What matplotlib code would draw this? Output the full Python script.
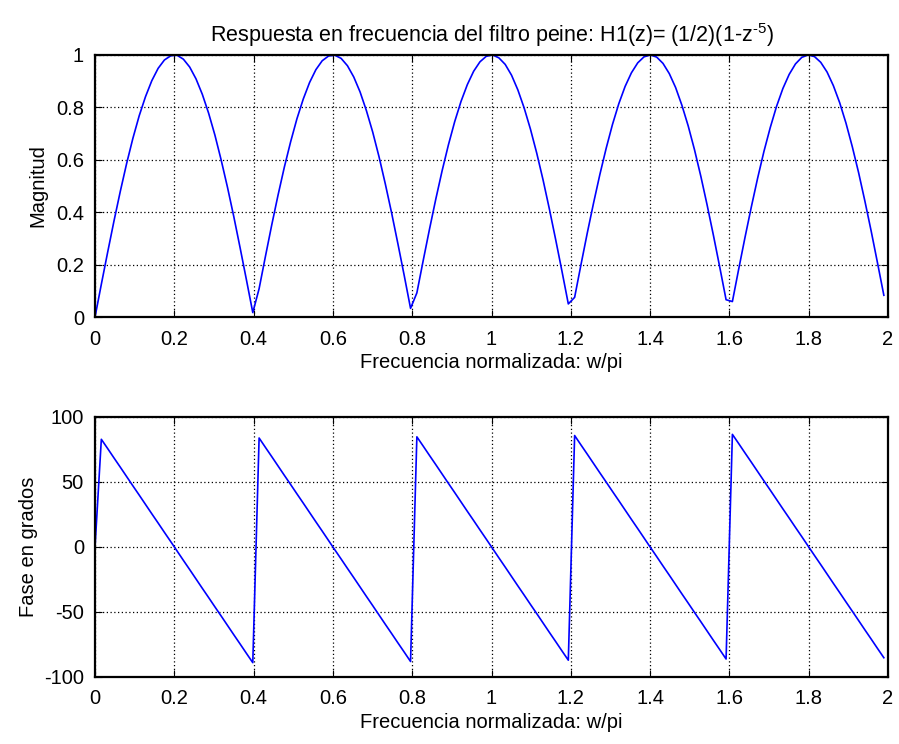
import matplotlib

matplotlib.use("Agg")
import matplotlib.pyplot as plt
import numpy as np
from matplotlib.ticker import FormatStrFormatter

plt.rcParams["font.family"] = ["Liberation Sans", "DejaVu Sans"]
plt.rcParams["mathtext.fontset"] = "custom"
plt.rcParams["mathtext.rm"] = "Liberation Sans"
plt.rcParams["mathtext.it"] = "Liberation Sans"

FS = 14.5

# frequency samples (rad/sample), 0 .. 6.25 in steps of 0.05
w = [
    0.00, 0.05, 0.10, 0.15, 0.20, 0.25, 0.30, 0.35, 0.40, 0.45,
    0.50, 0.55, 0.60, 0.65, 0.70, 0.75, 0.80, 0.85, 0.90, 0.95,
    1.00, 1.05, 1.10, 1.15, 1.20, 1.25, 1.30, 1.35, 1.40, 1.45,
    1.50, 1.55, 1.60, 1.65, 1.70, 1.75, 1.80, 1.85, 1.90, 1.95,
    2.00, 2.05, 2.10, 2.15, 2.20, 2.25, 2.30, 2.35, 2.40, 2.45,
    2.50, 2.55, 2.60, 2.65, 2.70, 2.75, 2.80, 2.85, 2.90, 2.95,
    3.00, 3.05, 3.10, 3.15, 3.20, 3.25, 3.30, 3.35, 3.40, 3.45,
    3.50, 3.55, 3.60, 3.65, 3.70, 3.75, 3.80, 3.85, 3.90, 3.95,
    4.00, 4.05, 4.10, 4.15, 4.20, 4.25, 4.30, 4.35, 4.40, 4.45,
    4.50, 4.55, 4.60, 4.65, 4.70, 4.75, 4.80, 4.85, 4.90, 4.95,
    5.00, 5.05, 5.10, 5.15, 5.20, 5.25, 5.30, 5.35, 5.40, 5.45,
    5.50, 5.55, 5.60, 5.65, 5.70, 5.75, 5.80, 5.85, 5.90, 5.95,
    6.00, 6.05, 6.10, 6.15, 6.20, 6.25,
]

magnitud = [
    0.000,
    0.125, 0.247, 0.366, 0.479, 0.585, 0.682, 0.768, 0.841, 0.902, 0.949,
    0.981, 0.997, 0.999, 0.984, 0.954, 0.909, 0.850, 0.778, 0.694, 0.598,
    0.494, 0.382, 0.263, 0.141, 0.017,
    0.108, 0.231, 0.351, 0.465, 0.572, 0.669, 0.757, 0.832, 0.895, 0.944,
    0.978, 0.996, 0.999, 0.987, 0.959, 0.916, 0.859, 0.788, 0.706, 0.612,
    0.508, 0.397, 0.279, 0.158, 0.033,
    0.092, 0.215, 0.335, 0.450, 0.558, 0.657, 0.746, 0.823, 0.887, 0.938,
    0.974, 0.995, 1.000, 0.989, 0.964, 0.923, 0.867, 0.798, 0.717, 0.625,
    0.523, 0.412, 0.295, 0.174, 0.050,
    0.075, 0.199, 0.320, 0.435, 0.544, 0.644, 0.735, 0.814, 0.880, 0.932,
    0.970, 0.993, 1.000, 0.992, 0.968, 0.929, 0.876, 0.808, 0.729, 0.638,
    0.537, 0.427, 0.311, 0.190, 0.066,
    0.059, 0.183, 0.304, 0.420, 0.530, 0.632, 0.723, 0.804, 0.872, 0.926,
    0.966, 0.991, 1.000, 0.994, 0.972, 0.935, 0.883, 0.818, 0.740, 0.650,
    0.551, 0.442, 0.327, 0.206, 0.083,
]

fase = [
    0.0,
    82.8, 75.7, 68.5, 61.4, 54.2, 47.0, 39.9, 32.7, 25.5, 18.4,
    11.2, 4.1, -3.1, -10.3, -17.4, -24.6, -31.8, -38.9, -46.1, -53.2,
    -60.4, -67.6, -74.7, -81.9, -89.0,
    83.8, 76.6, 69.5, 62.3, 55.1, 48.0, 40.8, 33.7, 26.5, 19.3,
    12.2, 5.0, -2.2, -9.3, -16.5, -23.6, -30.8, -38.0, -45.1, -52.3,
    -59.5, -66.6, -73.8, -80.9, -88.1,
    84.7, 77.6, 70.4, 63.3, 56.1, 48.9, 41.8, 34.6, 27.4, 20.3,
    13.1, 6.0, -1.2, -8.4, -15.5, -22.7, -29.9, -37.0, -44.2, -51.3,
    -58.5, -65.7, -72.8, -80.0, -87.1,
    85.7, 78.5, 71.4, 64.2, 57.0, 49.9, 42.7, 35.6, 28.4, 21.2,
    14.1, 6.9, -0.3, -7.4, -14.6, -21.7, -28.9, -36.1, -43.2, -50.4,
    -57.5, -64.7, -71.9, -79.0, -86.2,
    86.6, 79.5, 72.3, 65.2, 58.0, 50.8, 43.7, 36.5, 29.3, 22.2,
    15.0, 7.9, 0.7, -6.5, -13.6, -20.8, -28.0, -35.1, -42.3, -49.4,
    -56.6, -63.8, -70.9, -78.1, -85.2,
]

x = np.array(w) / np.pi
xticks = [0, 0.2, 0.4, 0.6, 0.8, 1.0, 1.2, 1.4, 1.6, 1.8, 2.0]

fig = plt.figure(figsize=(8.99, 7.44), dpi=100)
ax1 = fig.add_axes([0.1057, 0.5739, 0.8821, 0.3522])
ax2 = fig.add_axes([0.1057, 0.0901, 0.8821, 0.3495])


def style(ax):
    ax.set_xlim(0, 2)
    ax.set_xticks(xticks)
    ax.xaxis.set_major_formatter(FormatStrFormatter("%g"))
    ax.yaxis.set_major_formatter(FormatStrFormatter("%g"))
    ax.grid(True, color="black", linestyle=(0, (1, 2)), linewidth=0.9)
    ax.tick_params(direction="in", top=True, right=True, length=5,
                   width=0.8, labelsize=FS)
    ax.tick_params(axis="x", pad=9)
    ax.tick_params(axis="y", pad=8)
    for sp in ax.spines.values():
        sp.set_linewidth(1.6)
    ax.set_xlabel("Frecuencia normalizada: w/pi", fontsize=FS, labelpad=3)


ax1.plot(x, magnitud, color="#0000ff", lw=1.2)
ax1.set_ylim(0, 1)
ax1.set_yticks([0, 0.2, 0.4, 0.6, 0.8, 1.0])
style(ax1)
ax1.set_ylabel("Magnitud", fontsize=FS, labelpad=6)
ax1.set_title(r"Respuesta en frecuencia del filtro peine: H1(z)= (1/2)(1-z$^{\text{-5}}$)",
              fontsize=15.5, pad=9)

ax2.plot(x, fase, color="#0000ff", lw=1.2)
ax2.set_ylim(-100, 100)
ax2.set_yticks([-100, -50, 0, 50, 100])
style(ax2)
ax2.set_ylabel("Fase en grados", fontsize=FS, labelpad=4)

fig.savefig("out.png", dpi=100)
